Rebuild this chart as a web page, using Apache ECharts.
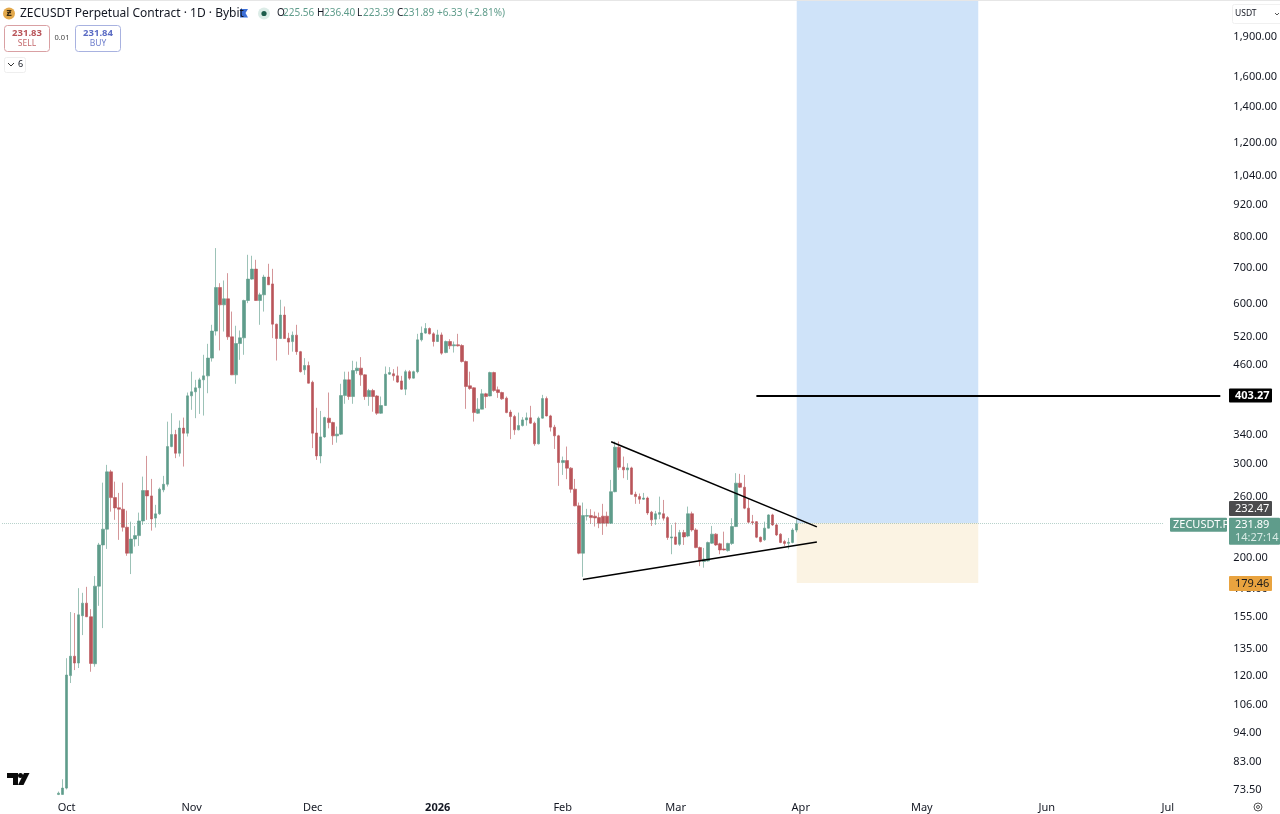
<!DOCTYPE html>
<html><head><meta charset="utf-8"><style>html,body{margin:0;padding:0;background:#fff}#c{width:1280px;height:814px}</style>
<script src="https://cdn.jsdelivr.net/npm/echarts@6/dist/echarts.min.js"></script></head><body><div id="c"></div>
<script>
const firstDay = '2025-09-15', dayCount = 304, firstCandleIndex = 14;
const monthTickDates = ['2025-10-01','2025-11-01','2025-12-01','2026-01-01','2026-02-01','2026-03-01','2026-04-01','2026-05-01','2026-06-01','2026-07-01'];
const monthTickLabels = ['Oct','Nov','Dec','2026','Feb','Mar','Apr','May','Jun','Jul'];
const priceTicks = [1900,1600,1400,1200,1040,920,800,700,600,520,460,340,300,260,200,175,155,135,120,106,94,83,73.5];
const priceMin = 71.52, priceMax = 2225.6;
// open, close, low, high per day starting 2025-09-29
const candlesAutumn = [
[72,72.4,71.8,72.9],[72,74,71.9,76.9],[74,120.6,73.6,129.7],[120.3,130.8,116.5,158.3],[130.8,127,123.2,157.6],[127,156.4,124.3,175.5],[155.8,164.5,143.3,172],[164.5,155.1,154.9,176.5],[155.1,126.8,122.3,160.3],[126.6,177,125,184.9],
[177,211.5,162.6,213.4],[211.5,226.4,147.7,276.8],[226.4,290,207.9,298.9],[290,259.5,244.2,292.5],[259.5,248.2,235.7,278],[248.4,246.8,216.2,264.8],[246.8,228.3,224.1,276.8],[228.3,204.1,201.8,245.3],[204.1,216.9,186.5,233.9],[217,220.2,210,229.6],
[220.2,234.6,210.6,243.2],[234.6,267.5,230.6,284.1],[267.5,261.4,235.7,310.7],[261.4,236.7,225,281.3],[237.5,241.9,228,251.5],[241.9,269.1,240.9,271],[268.3,274.9,265.6,285],[274.9,323.5,272.2,360.2],[323.5,340.7,322.5,373.6],[340.7,314.3,307.7,347.7],
[314.3,350.3,309.8,362],[350.3,342.7,296.7,366.6],[342.7,402.7,337.8,408.5],[402.7,409.8,379.1,447],[409.8,416.9,365.7,431.5],[416.9,431.5,372.5,435.3],[431.5,439,369.8,480.8],[439,474,407.3,504.1],[474,532.6,466.9,547.3],[532.6,643,522.5,762.3],
[643,596.6,489.9,655],[596.6,612.3,531.6,662.8],[612.3,519.6,512.9,684],[519.6,440.9,440.5,579.5],[440.9,504.8,424.2,545],[504.8,517.4,470.5,534],[517.4,607.9,480.8,610],[607.9,666.7,601,740.5],[666.7,696.1,664.7,737.4],[696.1,607.9,607,724.7],
[607.9,623,547.3,628.5],[623,672.5,579.5,679.2],[672.5,650.5,650,712.3],[653,548.8,516.7,697],[548.8,515.8,469.1,550],[515.8,570.7,515,609.7],[570.7,515.8,515,592.3],[516.5,507.9,480.8,528.7],[509,523.4,487.4,531.6],[523.4,487.4,480.8,547.3]];
const candlesWinter = [
[487.4,447,445.3,489],[450.6,459,440.9,474],[459,425.3,424.8,466.9],[427,342.7,321.3,430],[343,310.7,305.4,382.4],[310.7,337.3,301,377.3],[337.3,366.6,335.9,368],[365.7,358.8,350,408.5],[358.8,338.8,325.9,360.2],[338.8,341.3,329,352.7],
[341.3,403.2,340,424.2],[403.2,431.5,389.1,447],[431.5,401.5,395.8,447],[401.5,449.2,389.1,468.5],[449,453.9,442.9,466.9],[453.9,440.9,420.5,476],[440.9,401.5,395.8,442],[401.5,412,385.7,415],[412,401.5,376,415],[402.5,373.6,370.9,404],
[373.6,386.2,372.5,401.5],[386.2,442.2,385.5,457.1],[442.2,445.3,440.9,455.9],[443,439,430,452],[439,427.3,426,457],[429.5,414.5,413.3,439],[414.5,447,404,450.6],[447,434.7,431.5,450],[434.7,447,434,449],[447,512.9,444,526.4],
[512.9,528,509.2,543.3],[528,538.6,526.4,551.3],[538.6,526.4,525,541],[526.4,509.2,498.3,530],[509.2,524,508,535.6],[524,484.2,480.8,529.4],[485.5,509.2,484,511.4],[509.2,499.8,492.7,514.4],[499.8,502,485.5,509.2],[502,499.8,498.3,526.4],
[500.5,467,465,503.3],[467,419.2,380.7,469],[420.5,415.6,413.3,447],[416.9,374.6,360.3,418],[373.6,380.2,372.5,398.7],[380.2,406.2,380,414.5],[406.2,401.5,381.9,408],[402.5,445.3,402,447],[445.3,412,409.8,447],[413.3,408.5,399.2,419.2],
[408.5,397.5,395.8,410],[398.7,374.6,373.6,401.5],[375.4,368.2,334,379.1],[368.2,347.7,340.3,370.9],[347.7,354.2,347,374.6],[354.2,363,352.7,367.3],[363,366.2,354,374.6],[366.2,357.9,356.9,385.7],[357.9,327.3,324.5,360.3],[327.3,365.7,326.5,368.2],
[365.7,398,365,404.4],[398,369.3,368.5,401.5],[369.3,351.8,345.2,371],[351.8,338.8,320.2,355.3],[338.8,301.9,273,340.3],[301.9,304.5,286.2,309.8],[304.5,294.7,281,323.5],[294.7,269.1,265,296],[269.1,250.4,250,281.3],[250.4,204.1,203.2,254]];
const candlesSpring = [
[204.1,240.1,184.3,254],[239.5,240.1,235,247.2],[240.1,238,231.6,246.8],[239.5,237.7,229,244.2],[238,232.3,227.4,243.2],[239.5,232.3,220.9,252.6],[239.5,232.3,229,244.2],[232.3,266.2,231.6,280.1],[266.2,322.6,265.5,330.6],[322.6,295.9,292.5,330.6],
[295.9,292.5,282.2,309.8],[292.5,295,280.1,301],[295,263.2,262.5,296.5],[263.2,260.6,252.6,266.2],[260.6,257.7,252.6,264.1],[257.7,259,256.9,264.8],[259,242.9,240.8,260.6],[243.7,235.7,229.6,245],[236.4,242,230.6,245],[241.4,243.2,236.4,260.6],
[242,237.4,235,256.9],[238,218.4,216.2,239.5],[218,219,203.2,230.6],[219,212.1,211.5,233],[212.1,223.1,210.6,225.7],[223.1,219,211.5,225.7],[219.8,242,218.7,249.6],[242,225.7,224,244.2],[225.7,209.1,208.5,227.4],[209.1,197.4,193,210],
[196.9,199,191.7,208.8],[197.4,213.7,196.9,214.6],[213.1,221.6,212.5,229.6],[221.6,211.5,210.6,222.5],[212.5,207,203.2,213.5],[207.9,207,206.5,224],[206.4,212.9,205.5,213.5],[212.9,229,211.5,237.4],[229,276.2,228.5,288.4],[276.2,271.4,270.5,287.5],
[271.4,247.9,246.8,286.2],[247.9,233.4,232.3,258.8],[233.8,232.8,230.6,240.8],[233.9,218.7,217.8,234.5],[218.7,214.6,213.8,219.3],[216.2,227.4,215.3,233.9],[227.4,240.8,227,241.5],[240.8,230.6,229.6,242],[230.6,220.9,219.8,232.3],[221.6,213.8,213.1,222.5],
[214.6,212.9,210.6,216.2],[213,213.9,207.6,218],[213.8,225.56,213,227.4],[225.56,231.89,223.39,236.4]];
const targetPrice = 403.27, entryPrice = 232.47, stopPrice = 179.46, lastPrice = 231.89;
const positionStart = '2026-03-31', positionEnd = '2026-05-15';
const upperTrend = [['2026-02-13',330.2],['2026-04-05',228.7]];
const lowerTrend = [['2026-02-06',182.1],['2026-04-05',214.3]];
const targetLineStart = '2026-03-21', targetLineEnd = '2026-07-14', lastLineEnd = '2026-06-30';
const tagValues = [403.27,232.47,231.89,231.89,179.46];
const tagTexts = ['403.27','232.47','231.89','ZECUSDT.P','179.46'];
const countdownText = '14:27:14';

const dayMs = 86400000, t0 = Date.parse(firstDay + 'T00:00:00Z');
const categories = [];
for (let i = 0; i < dayCount; i++) categories.push(new Date(t0 + i * dayMs).toISOString().slice(0, 10));
const candles = categories.map(() => '-');
candlesAutumn.concat(candlesWinter, candlesSpring).forEach((c, i) => candles[firstCandleIndex + i] = c);
const tickMap = {}; monthTickDates.forEach((d, i) => tickMap[d] = monthTickLabels[i]);

const UP = '#5f9c8b', DOWN = '#b9555a';
const FONT = '"Noto Sans", sans-serif';
const tagStyles = [
 {bg:'#000000',fg:'#ffffff',left:1229,w:43,top:-7,h:14,weight:'bold'},
 {bg:'#4b4b4d',fg:'#ffffff',left:1229,w:43,top:-22,h:15},
 {bg:'#5f9c8b',fg:'#ffffff',left:1229,w:51,top:-6,h:27,sub:true},
 {bg:'#5f9c8b',fg:'#ffffff',left:1170,w:57,top:-6,h:14},
 {bg:'#e9a33f',fg:'#1a1a1a',left:1229,w:43,top:-7,h:15}
];
function renderTag(params, api) {
  const s = tagStyles[params.dataIndex];
  const y = api.coord([0, api.value(1)])[1] + s.top;
  const kids = [{type:'rect',shape:{x:s.left,y:y,width:s.w,height:s.h,r:1},style:{fill:s.bg}}];
  kids.push({type:'text',style:{x:s.left + (s.w === 57 ? 3 : 6),y:y + 7.5,text:tagTexts[params.dataIndex],fill:s.fg,font:(s.weight||'normal') + ' 11px ' + FONT,textVerticalAlign:'middle'}});
  if (s.sub) kids.push({type:'text',style:{x:s.left + 6,y:y + 20.5,text:countdownText,fill:'#d8ebe5',font:'11px ' + FONT,textVerticalAlign:'middle'}});
  return {type:'group',children:kids};
}
const txt = (x, y, text, fill, size, extra) => ({type:'text',silent:true,z:50,style:Object.assign({x,y,text,fill,font:(extra&&extra.weight?extra.weight+' ':'') + size + 'px ' + FONT,textVerticalAlign:'middle',textAlign:extra&&extra.align||'left'})});
const rect = (x,y,w,h,fill,stroke,r) => ({type:'rect',silent:true,z:49,shape:{x,y,width:w,height:h,r:r||0},style:{fill,stroke,lineWidth:1}});

const chart = echarts.init(document.getElementById('c'));
chart.setOption({
  animation:false,
  backgroundColor:'#ffffff',
  grid:{left:0,top:0,width:1230,height:796,containLabel:false},
  xAxis:{type:'category',data:categories,boundaryGap:true,axisLine:{show:false},axisTick:{show:false},splitLine:{show:false},
    axisLabel:{interval:(i,v)=>v in tickMap,formatter:v=>v==='2026-01-01'?'{b|2026}':tickMap[v],color:'#131722',fontSize:11,fontFamily:FONT,margin:6,rich:{b:{fontWeight:'bold',fontSize:11,fontFamily:FONT,color:'#131722'}}}},
  yAxis:{type:'log',position:'right',min:priceMin,max:priceMax,logBase:10,axisLine:{show:false},axisTick:{show:false},splitLine:{show:false},minorTick:{show:false},
    axisLabel:{customValues:priceTicks,formatter:v=>Number(v).toLocaleString('en-US',{minimumFractionDigits:2,maximumFractionDigits:2}),color:'#131722',fontSize:11,fontFamily:FONT,margin:7,align:'left'}},
  series:[
   {type:'candlestick',name:'ZECUSDT.P',data:candles,barWidth:3,clip:true,
    itemStyle:{color:UP,color0:DOWN,borderColor:'rgba(95,156,139,0.62)',borderColor0:'rgba(185,85,90,0.62)',borderWidth:1},
    markArea:{silent:true,data:[
      [{xAxis:positionStart,yAxis:entryPrice,itemStyle:{color:'#cfe3f9'}},{xAxis:positionEnd,yAxis:priceMax}],
      [{xAxis:positionStart,yAxis:stopPrice,itemStyle:{color:'#fbf3e3'}},{xAxis:positionEnd,yAxis:entryPrice}]
    ]},
    markLine:{silent:true,symbol:'none',label:{show:false},data:[
      [{xAxis:categories[0],yAxis:lastPrice,lineStyle:{color:'rgba(95,156,139,0.45)',width:1,type:'dotted'}},{xAxis:lastLineEnd,yAxis:lastPrice}],
      [{xAxis:upperTrend[0][0],yAxis:upperTrend[0][1],lineStyle:{color:'#000',width:1.5,type:'solid'}},{xAxis:upperTrend[1][0],yAxis:upperTrend[1][1]}],
      [{xAxis:lowerTrend[0][0],yAxis:lowerTrend[0][1],lineStyle:{color:'#000',width:1.5,type:'solid'}},{xAxis:lowerTrend[1][0],yAxis:lowerTrend[1][1]}],
      [{xAxis:targetLineStart,yAxis:targetPrice,lineStyle:{color:'#000',width:2,type:'solid'}},{xAxis:targetLineEnd,yAxis:targetPrice}]
    ]}},
   {type:'custom',name:'price tags',coordinateSystem:'cartesian2d',clip:false,z:20,silent:true,renderItem:renderTag,data:tagValues.map(v=>[0,v]),encode:{x:0,y:1}}
  ],
  graphic:[
    rect(0,0,1280,1,'#e6e6e6'),
    {type:'circle',silent:true,z:49,shape:{cx:9,cy:13.5,r:6},style:{fill:'#e3a94c'}},
    txt(9,13.5,'Ƶ','#3a2a10',9,{align:'center',weight:'bold'}),
    txt(20,13.5,'ZECUSDT Perpetual Contract · 1D · Bybit','#131722',12),
    {type:'polygon',silent:true,z:49,shape:{points:[[240,9],[248,9],[245.5,13],[248,17.5],[240,17.5]]},style:{fill:'#3b6fd8'}},
    {type:'circle',silent:true,z:49,shape:{cx:264,cy:13.5,r:6},style:{fill:'#dcece7'}},
    {type:'circle',silent:true,z:49,shape:{cx:264,cy:13.5,r:2.6},style:{fill:'#1d5c4b'}},
    txt(277,13.5,'O','#131722',10),txt(283,13.5,'225.56',UP,10),
    txt(317,13.5,'H','#131722',10),txt(324,13.5,'236.40',UP,10),
    txt(357,13.5,'L','#131722',10),txt(363,13.5,'223.39',UP,10),
    txt(397,13.5,'C','#131722',10),txt(403,13.5,'231.89',UP,10),
    txt(437,13.5,'+6.33 (+2.81%)',UP,10),
    rect(4.5,25.5,45,26,'#fff','#d9a0a3',3),
    txt(27,33,'231.83','#b9555a',9.5,{align:'center',weight:'bold'}),
    txt(27,43.5,'SELL','#c46a6e',8.5,{align:'center'}),
    txt(62,38,'0.01','#444',7.5,{align:'center'}),
    rect(75.5,25.5,45,26,'#fff','#a8b2e0',3),
    txt(98,33,'231.84','#5b6cc4',9.5,{align:'center',weight:'bold'}),
    txt(98,43.5,'BUY','#6d7dcc',8.5,{align:'center'}),
    rect(4.5,57.5,21,15,'#fff','#eeeeee',2),
    {type:'polyline',silent:true,z:50,shape:{points:[[8,63],[11,66],[14,63]]},style:{stroke:'#333',fill:'none',lineWidth:1}},
    txt(18,64.5,'6','#131722',9),
    rect(1232.5,4.5,50,19,'#fff','#f0f0f0',2),
    txt(1235,14,'USDT','#131722',8.5),
    {type:'polyline',silent:true,z:50,shape:{points:[[1275,13],[1277,15],[1279,13]]},style:{stroke:'#555',fill:'none',lineWidth:1}},
    {type:'polygon',silent:true,z:49,shape:{points:[[7,773],[18,773],[18,785],[13,785],[13,778],[7,778]]},style:{fill:'#0b0b0b'}},
    {type:'circle',silent:true,z:49,shape:{cx:20.5,cy:775.5,r:2.5},style:{fill:'#0b0b0b'}},
    {type:'polygon',silent:true,z:49,shape:{points:[[24,773],[29.5,773],[23.5,785],[18,785]]},style:{fill:'#0b0b0b'}},
    {type:'circle',silent:true,z:49,shape:{cx:1258,cy:807,r:4},style:{fill:'none',stroke:'#555',lineWidth:1}},
    {type:'circle',silent:true,z:49,shape:{cx:1258,cy:807,r:1.5},style:{fill:'none',stroke:'#555',lineWidth:1}}
  ]
});
</script></body></html>
